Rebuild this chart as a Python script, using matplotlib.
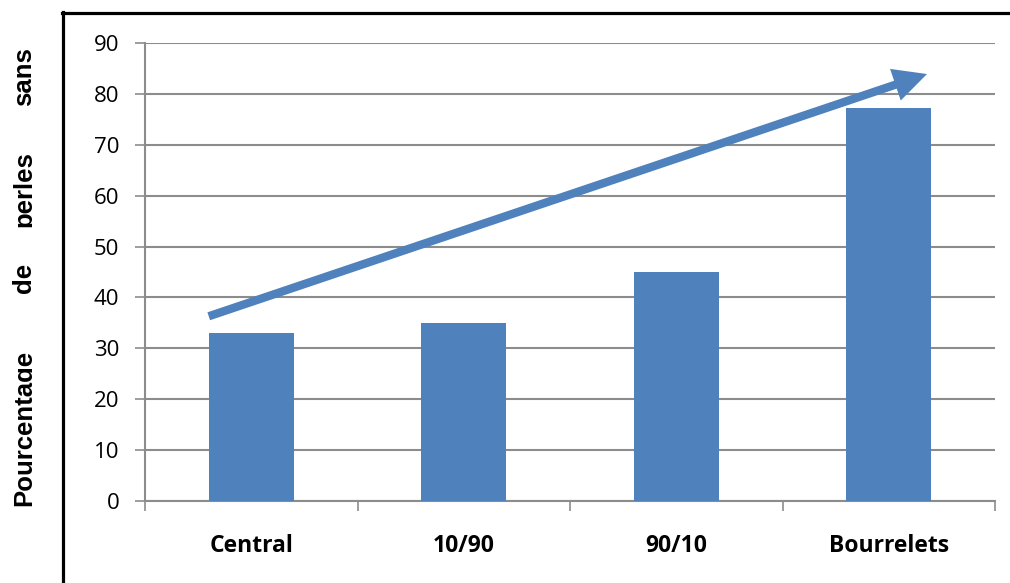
import numpy as np
import matplotlib
matplotlib.use("Agg")
import matplotlib.pyplot as plt
from matplotlib.lines import Line2D
from matplotlib.patches import FancyArrowPatch
from matplotlib.transforms import Bbox, TransformedBbox

# data
categories = ["Central", "10/90", "90/10", "Bourrelets"]
values = [33.0, 35.0, 45.0, 77.2]
yticks = [0, 10, 20, 30, 40, 50, 60, 70, 80, 90]
# trend arrow (data coords: category index, percent)
arrow_start = (-0.20, 36.3)
arrow_end = (3.18, 83.9)
ylabel_words = ["Pourcentage", "de", "perles", "sans"]

blue = "#4F81BD"
grid_gray = "#8c8c8c"

fig = plt.figure(figsize=(10.10, 5.83), dpi=100)
ax = fig.add_axes([145 / 1010, 1 - 501 / 583, 850 / 1010, 458 / 583])

x = np.arange(len(categories))
ax.bar(x, values, width=0.4, color=blue, zorder=3)

ax.set_xlim(-0.5, len(categories) - 0.5)
ax.set_ylim(0, 90)
ax.set_yticks(yticks)
ax.set_yticklabels([str(t) for t in yticks], fontsize=16, family="Open Sans")
ax.yaxis.grid(True, color=grid_gray, linewidth=1.5, zorder=0)
ax.set_axisbelow(True)

ax.set_xticks(x)
ax.set_xticklabels(categories, fontsize=16.5, fontweight="bold", family="Open Sans")
ax.set_xticks(np.arange(-0.5, len(categories)), minor=True)
ax.tick_params(axis="x", which="major", length=0, pad=24)
ax.tick_params(axis="x", which="minor", length=7, width=1.2, color=grid_gray, direction="out")
ax.tick_params(axis="y", length=7.5, width=1.2, color=grid_gray, direction="out", pad=11)

for s in ["top", "right"]:
    ax.spines[s].set_visible(False)
for s in ["left", "bottom"]:
    ax.spines[s].set_color(grid_gray)
    ax.spines[s].set_linewidth(1.5)

arrow = FancyArrowPatch(arrow_start, arrow_end,
                        arrowstyle="simple,tail_width=0.6,head_width=2.4,head_length=2.4",
                        mutation_scale=10, color=blue, lw=0,
                        shrinkA=0, shrinkB=0, zorder=5)
ax.add_patch(arrow)

# outer frame (only top and left are inside the picture)
fig.add_artist(Line2D([62 / 1010, 1], [1 - 13 / 583, 1 - 13 / 583],
                      transform=fig.transFigure, color="black", lw=2.3))
fig.add_artist(Line2D([63 / 1010, 63 / 1010], [0, 1 - 12 / 583],
                      transform=fig.transFigure, color="black", lw=2.3))

# clipped, justified y label
clip = TransformedBbox(Bbox([[0, 0], [32 / 1010, 1]]), fig.transFigure)
word_y = [428, 278, 189, 77]
for w, yy in zip(ylabel_words, word_y):
    t = fig.text(12 / 1010, 1 - yy / 583, w, rotation=90, ha="left", va="center",
                 fontsize=18.5, fontweight="bold", family="Liberation Sans")
    t.set_clip_box(clip)
    t.set_clip_on(True)

fig.savefig("out.png", dpi=100)
